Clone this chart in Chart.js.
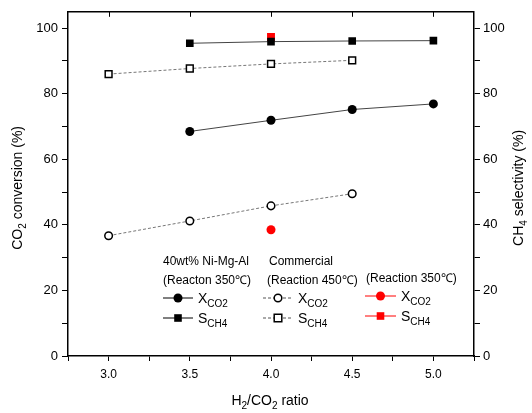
<!DOCTYPE html>
<html>
<head>
<meta charset="utf-8">
<script src="https://cdn.jsdelivr.net/npm/chart.js@4"></script>
<style>
html, body { margin: 0; padding: 0; background: #fff; }
</style>
</head>
<body>
<canvas id="chart" width="532" height="413"></canvas>
<script>
"use strict";
// H2/CO2 ratio
var ratios = [3.0, 3.5, 4.0, 4.5, 5.0];
// 40wt% Ni-Mg-Al (350 C)
var niXco2 = [null, 68.5, 71.9, 75.2, 76.9];
var niSch4 = [null, 95.4, 95.9, 96.1, 96.2];
// Commercial (450 C)
var comXco2 = [36.7, 41.2, 45.8, 49.5, null];
var comSch4 = [86.0, 87.7, 89.1, 90.2, null];
// Commercial (350 C)
var redXco2 = [null, null, 38.5, null, null];
var redSch4 = [null, null, 97.3, null, null];

var yLabels = [0, 20, 40, 60, 80, 100];
var xLabels = [3.0, 3.5, 4.0, 4.5, 5.0];

var FONT = "'Liberation Sans', Arial, sans-serif";

function pts(vals) {
  var out = [];
  for (var i = 0; i < ratios.length; i++) {
    if (vals[i] !== null) out.push({ x: ratios[i], y: vals[i] });
  }
  return out;
}

// draws text with subscript parts: [["CO", 0], ["2", 1], ...]
function drawRich(ctx, parts, x, y, size, align) {
  var subSize = Math.round(size * 0.7);
  var total = 0;
  parts.forEach(function (p) {
    ctx.font = (p[1] ? subSize : size) + "px " + FONT;
    total += ctx.measureText(p[0]).width;
  });
  var cx = align === "center" ? x - total / 2 : x;
  ctx.textAlign = "left";
  ctx.textBaseline = "alphabetic";
  parts.forEach(function (p) {
    ctx.font = (p[1] ? subSize : size) + "px " + FONT;
    ctx.fillText(p[0], cx, y + (p[1] ? size * 0.3 : 0));
    cx += ctx.measureText(p[0]).width;
  });
}

function legendMark(ctx, x1, x2, y, color, dashed, shape, filled) {
  ctx.save();
  ctx.strokeStyle = color;
  ctx.lineWidth = 1;
  if (dashed) ctx.setLineDash([3, 2]);
  ctx.beginPath();
  ctx.moveTo(x1, y);
  ctx.lineTo(x2, y);
  ctx.stroke();
  ctx.setLineDash([]);
  var cx = (x1 + x2) / 2;
  ctx.fillStyle = filled ? color : "#fff";
  ctx.strokeStyle = color === "#555" ? "#000" : color;
  ctx.lineWidth = 1.5;
  ctx.beginPath();
  if (shape === "circle") ctx.arc(cx, y, filled ? 4.5 : 3.8, 0, Math.PI * 2);
  else ctx.rect(cx - 3.8, y - 3.8, 7.6, 7.6);
  ctx.fill();
  if (!filled) ctx.stroke();
  ctx.restore();
}

var decorPlugin = {
  id: "decor",
  afterDraw: function (chart) {
    var ctx = chart.ctx;
    var a = chart.chartArea;
    var xs = chart.scales.x;
    ctx.save();
    // top frame + inner ticks
    ctx.strokeStyle = "#000";
    ctx.lineWidth = 1.5;
    ctx.beginPath();
    ctx.moveTo(a.left, a.top);
    ctx.lineTo(a.right, a.top);
    ctx.stroke();
    ctx.lineWidth = 1;
    xLabels.forEach(function (v) {
      var px = Math.round(xs.getPixelForValue(v)) + 0.5;
      ctx.beginPath();
      ctx.moveTo(px, a.top);
      ctx.lineTo(px, a.top + 5);
      ctx.stroke();
    });

    ctx.fillStyle = "#000";
    // axis titles
    drawRich(ctx, [["H", 0], ["2", 1], ["/CO", 0], ["2", 1], [" ratio", 0]], 270, 405, 14, "center");
    ctx.save();
    ctx.translate(22, (a.top + a.bottom) / 2 + 4);
    ctx.rotate(-Math.PI / 2);
    drawRich(ctx, [["CO", 0], ["2", 1], [" conversion (%)", 0]], 0, 0, 14, "center");
    ctx.restore();
    ctx.save();
    ctx.translate(523, (a.top + a.bottom) / 2 + 4);
    ctx.rotate(-Math.PI / 2);
    drawRich(ctx, [["CH", 0], ["4", 1], [" selectivity (%)", 0]], 0, 0, 14, "center");
    ctx.restore();

    // legend
    ctx.fillStyle = "#000";
    ctx.font = "12px " + FONT;
    ctx.textAlign = "left";
    ctx.textBaseline = "middle";
    ctx.fillText("40wt% Ni-Mg-Al", 163, 262);
    ctx.fillText("(Reacton 350\u2103)", 163, 281);
    ctx.fillText("Commercial", 269, 262);
    ctx.fillText("(Reaction 450\u2103)", 267, 281);
    ctx.fillText("(Reaction 350\u2103)", 366, 279);

    legendMark(ctx, 163, 193, 298, "#000", false, "circle", true);
    legendMark(ctx, 163, 193, 318, "#000", false, "rect", true);
    legendMark(ctx, 263, 293, 298, "#555", true, "circle", false);
    legendMark(ctx, 263, 293, 318, "#555", true, "rect", false);
    legendMark(ctx, 365, 396, 296, "#ff0000", false, "circle", true);
    legendMark(ctx, 365, 396, 316, "#ff0000", false, "rect", true);

    ctx.fillStyle = "#000";
    drawRich(ctx, [["X", 0], ["CO2", 1]], 198, 303, 14, "left");
    drawRich(ctx, [["S", 0], ["CH4", 1]], 198, 323, 14, "left");
    drawRich(ctx, [["X", 0], ["CO2", 1]], 298, 303, 14, "left");
    drawRich(ctx, [["S", 0], ["CH4", 1]], 298, 323, 14, "left");
    drawRich(ctx, [["X", 0], ["CO2", 1]], 401, 301, 14, "left");
    drawRich(ctx, [["S", 0], ["CH4", 1]], 401, 321, 14, "left");
    ctx.restore();
  },
};

function yTickCb(v) {
  return yLabels.indexOf(v) >= 0 ? String(v) : "";
}

new Chart(document.getElementById("chart"), {
  type: "line",
  data: {
    datasets: [
      {
        label: "Ni S_CH4",
        data: pts(niSch4),
        borderColor: "#444",
        borderWidth: 1,
        pointStyle: "rect",
        pointRadius: 5.4,
        pointBackgroundColor: "#000",
        pointBorderColor: "#000",
        pointBorderWidth: 0,
      },
      {
        label: "Ni X_CO2",
        data: pts(niXco2),
        borderColor: "#444",
        borderWidth: 1,
        pointStyle: "circle",
        pointRadius: 4.5,
        pointBackgroundColor: "#000",
        pointBorderColor: "#000",
        pointBorderWidth: 0,
      },
      {
        label: "Com S_CH4",
        data: pts(comSch4),
        borderColor: "#777",
        borderWidth: 1,
        borderDash: [3, 2],
        pointStyle: "rect",
        pointRadius: 4.8,
        pointBackgroundColor: "#fff",
        pointBorderColor: "#000",
        pointBorderWidth: 1.5,
      },
      {
        label: "Com X_CO2",
        data: pts(comXco2),
        borderColor: "#777",
        borderWidth: 1,
        borderDash: [3, 2],
        pointStyle: "circle",
        pointRadius: 3.8,
        pointBackgroundColor: "#fff",
        pointBorderColor: "#000",
        pointBorderWidth: 1.5,
      },
      {
        label: "Red X_CO2",
        data: pts(redXco2),
        showLine: false,
        pointStyle: "circle",
        pointRadius: 4.5,
        pointBackgroundColor: "#ff0000",
        pointBorderColor: "#ff0000",
        pointBorderWidth: 0,
      },
      {
        label: "Red S_CH4",
        data: pts(redSch4),
        showLine: false,
        pointStyle: "rect",
        pointRadius: 5.6,
        pointBackgroundColor: "#ff0000",
        pointBorderColor: "#ff0000",
        pointBorderWidth: 0,
      },
    ],
  },
  options: {
    responsive: false,
    animation: false,
    layout: { padding: { top: 10, left: 0, right: 0, bottom: 0 } },
    plugins: { legend: { display: false }, tooltip: { enabled: false } },
    scales: {
      x: {
        type: "linear",
        min: 2.75,
        max: 5.25,
        afterFit: function (s) { s.height = 57; },
        border: { display: true, color: "#000", width: 1.5 },
        grid: { drawOnChartArea: false, drawTicks: true, tickLength: 5, tickColor: "#000", tickWidth: 1 },
        ticks: {
          stepSize: 0.25,
          autoSkip: false,
          maxRotation: 0,
          padding: 6,
          color: "#000",
          font: { family: FONT, size: 12 },
          callback: function (v) {
            return xLabels.indexOf(v) >= 0 ? v.toFixed(1) : "";
          },
        },
      },
      y: {
        type: "linear",
        position: "left",
        min: 0,
        max: 105,
        afterFit: function (s) { s.width = 68; },
        border: { display: true, color: "#000", width: 1.5 },
        grid: { drawOnChartArea: false, drawTicks: true, tickLength: 6, tickColor: "#000", tickWidth: 1 },
        ticks: {
          stepSize: 10,
          includeBounds: false,
          autoSkip: false,
          padding: 4,
          color: "#000",
          font: { family: FONT, size: 13 },
          callback: yTickCb,
        },
      },
      y1: {
        type: "linear",
        position: "right",
        min: 0,
        max: 105,
        afterFit: function (s) { s.width = 58; },
        border: { display: true, color: "#000", width: 1.5 },
        grid: { drawOnChartArea: false, drawTicks: true, tickLength: 6, tickColor: "#000", tickWidth: 1 },
        ticks: {
          stepSize: 10,
          includeBounds: false,
          autoSkip: false,
          padding: 3,
          color: "#000",
          font: { family: FONT, size: 13 },
          callback: yTickCb,
        },
      },
    },
  },
  plugins: [decorPlugin],
});
</script>
</body>
</html>
